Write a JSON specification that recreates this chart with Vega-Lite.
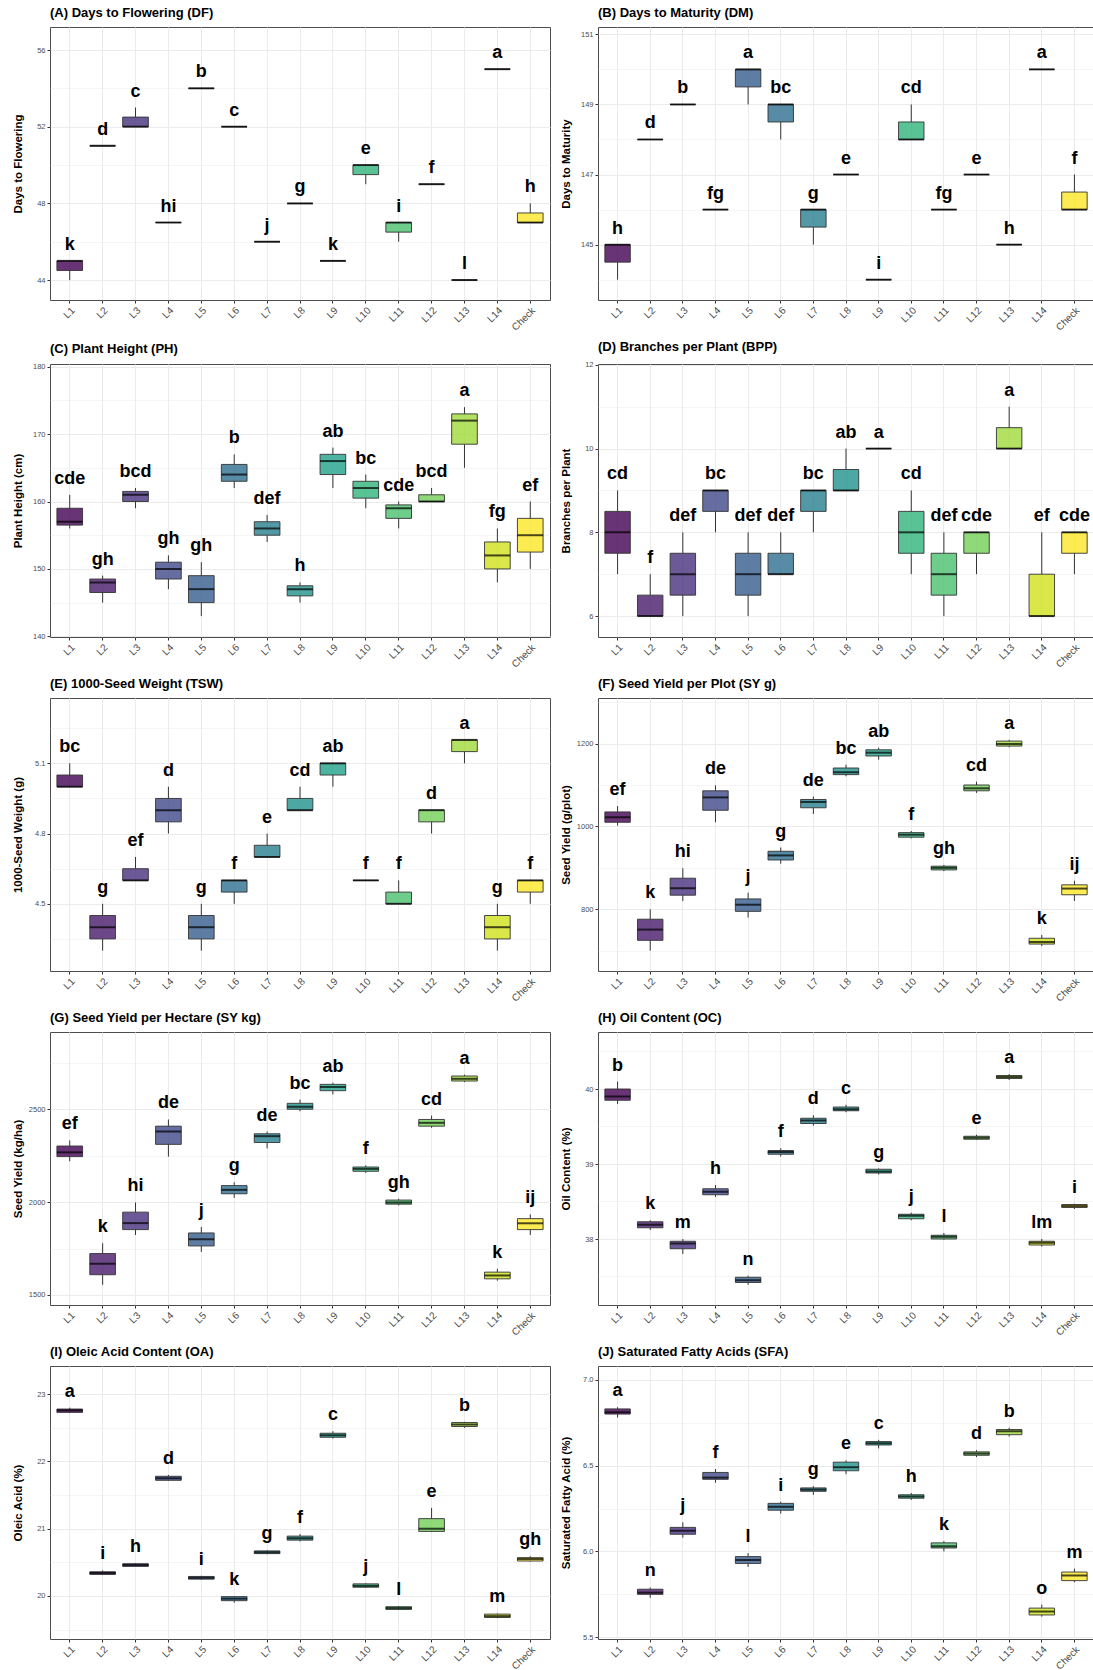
{
"$schema": "https://vega.github.io/schema/vega-lite/v6.json",
"padding": {"left": 11, "top": 6, "right": 0, "bottom": 0},
"background": "white",
"config": {
 "font": "Liberation Sans",
 "view": {"stroke": "#4d4d4d", "strokeWidth": 1},
 "range": {"category": ["#440154","#481A6C","#472F7D","#3F4889","#365C8D","#2E6E8E","#277F8E","#21918C","#1FA188","#2FB47C","#4AC16D","#73D056","#A0DA39","#D0E11C","#FDE725"]},
 "axis": {"domain": false, "grid": true, "gridColor": "#ebebeb", "tickColor": "#333333", "tickSize": 3, "labelColor": "#4d4d4d", "titleColor": "#000000", "titleFontWeight": "bold", "titleFontSize": 11.5},
 "axisX": {"labelAngle": -45, "labelAlign": "right", "labelBaseline": "top", "labelFontSize": 10, "labelPadding": 2, "minExtent": 32, "maxExtent": 32, "bandPosition": 0.5},
 "axisY": {"labelFontSize": 7.5, "labelPadding": 2, "minExtent": 24, "maxExtent": 24, "titlePadding": 3, "labelOverlap": false},
 "title": {"anchor": "start", "frame": "group", "fontSize": 13, "fontWeight": "bold", "offset": 7, "color": "#000000"},
 "bar": {"fillOpacity": 0.8, "stroke": "#333333", "strokeWidth": 0.9},
 "rule": {"color": "#333333", "strokeWidth": 1},
 "tick": {"thickness": 2, "color": "#000000"},
 "text": {"fontSize": 18, "fontWeight": "bold", "dy": -11, "baseline": "alphabetic", "align": "center", "color": "#000000"}
},
"datasets": {
 "A": [
  {"line":"L1","min":44,"q1":44.5,"med":45,"q3":45,"max":45,"grp":"k"},
  {"line":"L2","min":51,"q1":51,"med":51,"q3":51,"max":51,"grp":"d"},
  {"line":"L3","min":52,"q1":52,"med":52,"q3":52.5,"max":53,"grp":"c"},
  {"line":"L4","min":47,"q1":47,"med":47,"q3":47,"max":47,"grp":"hi"},
  {"line":"L5","min":54,"q1":54,"med":54,"q3":54,"max":54,"grp":"b"},
  {"line":"L6","min":52,"q1":52,"med":52,"q3":52,"max":52,"grp":"c"},
  {"line":"L7","min":46,"q1":46,"med":46,"q3":46,"max":46,"grp":"j"},
  {"line":"L8","min":48,"q1":48,"med":48,"q3":48,"max":48,"grp":"g"},
  {"line":"L9","min":45,"q1":45,"med":45,"q3":45,"max":45,"grp":"k"},
  {"line":"L10","min":49,"q1":49.5,"med":50,"q3":50,"max":50,"grp":"e"},
  {"line":"L11","min":46,"q1":46.5,"med":47,"q3":47,"max":47,"grp":"i"},
  {"line":"L12","min":49,"q1":49,"med":49,"q3":49,"max":49,"grp":"f"},
  {"line":"L13","min":44,"q1":44,"med":44,"q3":44,"max":44,"grp":"l"},
  {"line":"L14","min":55,"q1":55,"med":55,"q3":55,"max":55,"grp":"a"},
  {"line":"Check","min":47,"q1":47,"med":47,"q3":47.5,"max":48,"grp":"h"}
 ],
 "B": [
  {"line":"L1","min":144,"q1":144.5,"med":145,"q3":145,"max":145,"grp":"h"},
  {"line":"L2","min":148,"q1":148,"med":148,"q3":148,"max":148,"grp":"d"},
  {"line":"L3","min":149,"q1":149,"med":149,"q3":149,"max":149,"grp":"b"},
  {"line":"L4","min":146,"q1":146,"med":146,"q3":146,"max":146,"grp":"fg"},
  {"line":"L5","min":149,"q1":149.5,"med":150,"q3":150,"max":150,"grp":"a"},
  {"line":"L6","min":148,"q1":148.5,"med":149,"q3":149,"max":149,"grp":"bc"},
  {"line":"L7","min":145,"q1":145.5,"med":146,"q3":146,"max":146,"grp":"g"},
  {"line":"L8","min":147,"q1":147,"med":147,"q3":147,"max":147,"grp":"e"},
  {"line":"L9","min":144,"q1":144,"med":144,"q3":144,"max":144,"grp":"i"},
  {"line":"L10","min":148,"q1":148,"med":148,"q3":148.5,"max":149,"grp":"cd"},
  {"line":"L11","min":146,"q1":146,"med":146,"q3":146,"max":146,"grp":"fg"},
  {"line":"L12","min":147,"q1":147,"med":147,"q3":147,"max":147,"grp":"e"},
  {"line":"L13","min":145,"q1":145,"med":145,"q3":145,"max":145,"grp":"h"},
  {"line":"L14","min":150,"q1":150,"med":150,"q3":150,"max":150,"grp":"a"},
  {"line":"Check","min":146,"q1":146,"med":146,"q3":146.5,"max":147,"grp":"f"}
 ],
 "C": [
  {"line":"L1","min":156,"q1":156.5,"med":157,"q3":159,"max":161,"grp":"cde"},
  {"line":"L2","min":145,"q1":146.5,"med":148,"q3":148.5,"max":149,"grp":"gh"},
  {"line":"L3","min":159,"q1":160,"med":161,"q3":161.5,"max":162,"grp":"bcd"},
  {"line":"L4","min":147,"q1":148.5,"med":150,"q3":151,"max":152,"grp":"gh"},
  {"line":"L5","min":143,"q1":145,"med":147,"q3":149,"max":151,"grp":"gh"},
  {"line":"L6","min":162,"q1":163,"med":164,"q3":165.5,"max":167,"grp":"b"},
  {"line":"L7","min":154,"q1":155,"med":156,"q3":157,"max":158,"grp":"def"},
  {"line":"L8","min":145,"q1":146,"med":147,"q3":147.5,"max":148,"grp":"h"},
  {"line":"L9","min":162,"q1":164,"med":166,"q3":167,"max":168,"grp":"ab"},
  {"line":"L10","min":159,"q1":160.5,"med":162,"q3":163,"max":164,"grp":"bc"},
  {"line":"L11","min":156,"q1":157.5,"med":159,"q3":159.5,"max":160,"grp":"cde"},
  {"line":"L12","min":160,"q1":160,"med":160,"q3":161,"max":162,"grp":"bcd"},
  {"line":"L13","min":165,"q1":168.5,"med":172,"q3":173,"max":174,"grp":"a"},
  {"line":"L14","min":148,"q1":150,"med":152,"q3":154,"max":156,"grp":"fg"},
  {"line":"Check","min":150,"q1":152.5,"med":155,"q3":157.5,"max":160,"grp":"ef"}
 ],
 "D": [
  {"line":"L1","min":7,"q1":7.5,"med":8,"q3":8.5,"max":9,"grp":"cd"},
  {"line":"L2","min":6,"q1":6,"med":6,"q3":6.5,"max":7,"grp":"f"},
  {"line":"L3","min":6,"q1":6.5,"med":7,"q3":7.5,"max":8,"grp":"def"},
  {"line":"L4","min":8,"q1":8.5,"med":9,"q3":9,"max":9,"grp":"bc"},
  {"line":"L5","min":6,"q1":6.5,"med":7,"q3":7.5,"max":8,"grp":"def"},
  {"line":"L6","min":7,"q1":7,"med":7,"q3":7.5,"max":8,"grp":"def"},
  {"line":"L7","min":8,"q1":8.5,"med":9,"q3":9,"max":9,"grp":"bc"},
  {"line":"L8","min":9,"q1":9,"med":9,"q3":9.5,"max":10,"grp":"ab"},
  {"line":"L9","min":10,"q1":10,"med":10,"q3":10,"max":10,"grp":"a"},
  {"line":"L10","min":7,"q1":7.5,"med":8,"q3":8.5,"max":9,"grp":"cd"},
  {"line":"L11","min":6,"q1":6.5,"med":7,"q3":7.5,"max":8,"grp":"def"},
  {"line":"L12","min":7,"q1":7.5,"med":8,"q3":8,"max":8,"grp":"cde"},
  {"line":"L13","min":10,"q1":10,"med":10,"q3":10.5,"max":11,"grp":"a"},
  {"line":"L14","min":6,"q1":6,"med":6,"q3":7,"max":8,"grp":"ef"},
  {"line":"Check","min":7,"q1":7.5,"med":8,"q3":8,"max":8,"grp":"cde"}
 ],
 "E": [
  {"line":"L1","min":5.0,"q1":5.0,"med":5.0,"q3":5.05,"max":5.1,"grp":"bc"},
  {"line":"L2","min":4.3,"q1":4.35,"med":4.4,"q3":4.45,"max":4.5,"grp":"g"},
  {"line":"L3","min":4.6,"q1":4.6,"med":4.6,"q3":4.65,"max":4.7,"grp":"ef"},
  {"line":"L4","min":4.8,"q1":4.85,"med":4.9,"q3":4.95,"max":5.0,"grp":"d"},
  {"line":"L5","min":4.3,"q1":4.35,"med":4.4,"q3":4.45,"max":4.5,"grp":"g"},
  {"line":"L6","min":4.5,"q1":4.55,"med":4.6,"q3":4.6,"max":4.6,"grp":"f"},
  {"line":"L7","min":4.7,"q1":4.7,"med":4.7,"q3":4.75,"max":4.8,"grp":"e"},
  {"line":"L8","min":4.9,"q1":4.9,"med":4.9,"q3":4.95,"max":5.0,"grp":"cd"},
  {"line":"L9","min":5.0,"q1":5.05,"med":5.1,"q3":5.1,"max":5.1,"grp":"ab"},
  {"line":"L10","min":4.6,"q1":4.6,"med":4.6,"q3":4.6,"max":4.6,"grp":"f"},
  {"line":"L11","min":4.5,"q1":4.5,"med":4.5,"q3":4.55,"max":4.6,"grp":"f"},
  {"line":"L12","min":4.8,"q1":4.85,"med":4.9,"q3":4.9,"max":4.9,"grp":"d"},
  {"line":"L13","min":5.1,"q1":5.15,"med":5.2,"q3":5.2,"max":5.2,"grp":"a"},
  {"line":"L14","min":4.3,"q1":4.35,"med":4.4,"q3":4.45,"max":4.5,"grp":"g"},
  {"line":"Check","min":4.5,"q1":4.55,"med":4.6,"q3":4.6,"max":4.6,"grp":"f"}
 ],
 "F": [
  {"line":"L1","min":1002,"q1":1010,"med":1022,"q3":1035,"max":1049,"grp":"ef"},
  {"line":"L2","min":700,"q1":725,"med":751,"q3":776,"max":800,"grp":"k"},
  {"line":"L3","min":820,"q1":834,"med":851,"q3":875,"max":899,"grp":"hi"},
  {"line":"L4","min":1010,"q1":1039,"med":1070,"q3":1086,"max":1099,"grp":"de"},
  {"line":"L5","min":780,"q1":795,"med":811,"q3":825,"max":840,"grp":"j"},
  {"line":"L6","min":910,"q1":919,"med":930,"q3":940,"max":949,"grp":"g"},
  {"line":"L7","min":1030,"q1":1045,"med":1059,"q3":1065,"max":1072,"grp":"de"},
  {"line":"L8","min":1121,"q1":1125,"med":1131,"q3":1141,"max":1149,"grp":"bc"},
  {"line":"L9","min":1161,"q1":1170,"med":1178,"q3":1185,"max":1190,"grp":"ab"},
  {"line":"L10","min":971,"q1":974,"med":980,"q3":985,"max":989,"grp":"f"},
  {"line":"L11","min":892,"q1":895,"med":900,"q3":904,"max":907,"grp":"gh"},
  {"line":"L12","min":1081,"q1":1086,"med":1092,"q3":1100,"max":1108,"grp":"cd"},
  {"line":"L13","min":1191,"q1":1194,"med":1199,"q3":1206,"max":1209,"grp":"a"},
  {"line":"L14","min":711,"q1":716,"med":721,"q3":730,"max":738,"grp":"k"},
  {"line":"Check","min":820,"q1":835,"med":850,"q3":859,"max":869,"grp":"ij"}
 ],
 "G": [
  {"line":"L1","min":2220,"q1":2245,"med":2268,"q3":2302,"max":2332,"grp":"ef"},
  {"line":"L2","min":1555,"q1":1609,"med":1668,"q3":1723,"max":1779,"grp":"k"},
  {"line":"L3","min":1823,"q1":1852,"med":1887,"q3":1946,"max":1998,"grp":"hi"},
  {"line":"L4","min":2245,"q1":2311,"med":2380,"q3":2409,"max":2445,"grp":"de"},
  {"line":"L5","min":1732,"q1":1764,"med":1800,"q3":1834,"max":1866,"grp":"j"},
  {"line":"L6","min":2023,"q1":2045,"med":2066,"q3":2089,"max":2107,"grp":"g"},
  {"line":"L7","min":2289,"q1":2321,"med":2355,"q3":2368,"max":2380,"grp":"de"},
  {"line":"L8","min":2489,"q1":2500,"med":2513,"q3":2532,"max":2552,"grp":"bc"},
  {"line":"L9","min":2580,"q1":2600,"med":2620,"q3":2634,"max":2643,"grp":"ab"},
  {"line":"L10","min":2157,"q1":2166,"med":2179,"q3":2189,"max":2198,"grp":"f"},
  {"line":"L11","min":1982,"q1":1989,"med":1998,"q3":2011,"max":2018,"grp":"gh"},
  {"line":"L12","min":2400,"q1":2409,"med":2427,"q3":2445,"max":2466,"grp":"cd"},
  {"line":"L13","min":2646,"q1":2652,"med":2664,"q3":2679,"max":2686,"grp":"a"},
  {"line":"L14","min":1577,"q1":1587,"med":1605,"q3":1623,"max":1641,"grp":"k"},
  {"line":"Check","min":1823,"q1":1852,"med":1886,"q3":1911,"max":1934,"grp":"ij"}
 ],
 "H": [
  {"line":"L1","min":39.8,"q1":39.85,"med":39.9,"q3":40.0,"max":40.1,"grp":"b"},
  {"line":"L2","min":38.12,"q1":38.15,"med":38.19,"q3":38.23,"max":38.25,"grp":"k"},
  {"line":"L3","min":37.8,"q1":37.87,"med":37.94,"q3":37.97,"max":38.0,"grp":"m"},
  {"line":"L4","min":38.56,"q1":38.59,"med":38.63,"q3":38.67,"max":38.72,"grp":"h"},
  {"line":"L5","min":37.39,"q1":37.42,"med":37.45,"q3":37.49,"max":37.51,"grp":"n"},
  {"line":"L6","min":39.1,"q1":39.13,"med":39.16,"q3":39.18,"max":39.21,"grp":"f"},
  {"line":"L7","min":39.51,"q1":39.54,"med":39.58,"q3":39.61,"max":39.65,"grp":"d"},
  {"line":"L8","min":39.69,"q1":39.71,"med":39.73,"q3":39.76,"max":39.79,"grp":"c"},
  {"line":"L9","min":38.86,"q1":38.88,"med":38.9,"q3":38.93,"max":38.94,"grp":"g"},
  {"line":"L10","min":38.25,"q1":38.27,"med":38.31,"q3":38.33,"max":38.35,"grp":"j"},
  {"line":"L11","min":37.99,"q1":38.0,"med":38.03,"q3":38.05,"max":38.08,"grp":"l"},
  {"line":"L12","min":39.32,"q1":39.33,"med":39.35,"q3":39.37,"max":39.39,"grp":"e"},
  {"line":"L13","min":40.12,"q1":40.14,"med":40.16,"q3":40.18,"max":40.2,"grp":"a"},
  {"line":"L14","min":37.9,"q1":37.92,"med":37.95,"q3":37.97,"max":38.0,"grp":"lm"},
  {"line":"Check","min":38.4,"q1":38.42,"med":38.44,"q3":38.46,"max":38.47,"grp":"i"}
 ],
 "I": [
  {"line":"L1","min":22.72,"q1":22.73,"med":22.76,"q3":22.78,"max":22.8,"grp":"a"},
  {"line":"L2","min":20.31,"q1":20.32,"med":20.34,"q3":20.36,"max":20.38,"grp":"i"},
  {"line":"L3","min":20.44,"q1":20.44,"med":20.46,"q3":20.48,"max":20.49,"grp":"h"},
  {"line":"L4","min":21.71,"q1":21.72,"med":21.75,"q3":21.78,"max":21.8,"grp":"d"},
  {"line":"L5","min":20.24,"q1":20.25,"med":20.27,"q3":20.29,"max":20.3,"grp":"i"},
  {"line":"L6","min":19.9,"q1":19.93,"med":19.96,"q3":19.99,"max":20.0,"grp":"k"},
  {"line":"L7","min":20.62,"q1":20.63,"med":20.65,"q3":20.67,"max":20.68,"grp":"g"},
  {"line":"L8","min":20.81,"q1":20.83,"med":20.86,"q3":20.89,"max":20.92,"grp":"f"},
  {"line":"L9","min":22.34,"q1":22.36,"med":22.39,"q3":22.42,"max":22.45,"grp":"c"},
  {"line":"L10","min":20.12,"q1":20.13,"med":20.15,"q3":20.18,"max":20.19,"grp":"j"},
  {"line":"L11","min":19.79,"q1":19.8,"med":19.82,"q3":19.84,"max":19.85,"grp":"l"},
  {"line":"L12","min":20.95,"q1":20.96,"med":21.0,"q3":21.15,"max":21.31,"grp":"e"},
  {"line":"L13","min":22.5,"q1":22.52,"med":22.55,"q3":22.58,"max":22.59,"grp":"b"},
  {"line":"L14","min":19.67,"q1":19.68,"med":19.7,"q3":19.73,"max":19.74,"grp":"m"},
  {"line":"Check","min":20.51,"q1":20.52,"med":20.55,"q3":20.57,"max":20.59,"grp":"gh"}
 ],
 "J": [
  {"line":"L1","min":6.78,"q1":6.8,"med":6.81,"q3":6.83,"max":6.84,"grp":"a"},
  {"line":"L2","min":5.73,"q1":5.75,"med":5.76,"q3":5.78,"max":5.79,"grp":"n"},
  {"line":"L3","min":6.08,"q1":6.1,"med":6.12,"q3":6.14,"max":6.17,"grp":"j"},
  {"line":"L4","min":6.4,"q1":6.42,"med":6.43,"q3":6.46,"max":6.48,"grp":"f"},
  {"line":"L5","min":5.91,"q1":5.93,"med":5.95,"q3":5.97,"max":5.99,"grp":"l"},
  {"line":"L6","min":6.22,"q1":6.24,"med":6.26,"q3":6.28,"max":6.29,"grp":"i"},
  {"line":"L7","min":6.33,"q1":6.35,"med":6.36,"q3":6.37,"max":6.38,"grp":"g"},
  {"line":"L8","min":6.45,"q1":6.47,"med":6.49,"q3":6.52,"max":6.53,"grp":"e"},
  {"line":"L9","min":6.6,"q1":6.62,"med":6.63,"q3":6.64,"max":6.65,"grp":"c"},
  {"line":"L10","min":6.3,"q1":6.31,"med":6.32,"q3":6.33,"max":6.34,"grp":"h"},
  {"line":"L11","min":6.0,"q1":6.02,"med":6.03,"q3":6.05,"max":6.06,"grp":"k"},
  {"line":"L12","min":6.55,"q1":6.56,"med":6.57,"q3":6.58,"max":6.59,"grp":"d"},
  {"line":"L13","min":6.67,"q1":6.68,"med":6.7,"q3":6.71,"max":6.72,"grp":"b"},
  {"line":"L14","min":5.62,"q1":5.63,"med":5.65,"q3":5.67,"max":5.69,"grp":"o"},
  {"line":"Check","min":5.82,"q1":5.83,"med":5.86,"q3":5.88,"max":5.9,"grp":"m"}
 ]
},
"columns": 2,
"spacing": {"row": 7, "column": 8},
"concat": [
 {"width": 500, "height": 273, "title": "(A) Days to Flowering (DF)", "data": {"name": "A"},
  "encoding": {"x": {"field": "line", "type": "nominal", "title": null, "scale": {"domain": ["L1","L2","L3","L4","L5","L6","L7","L8","L9","L10","L11","L12","L13","L14","Check"], "paddingInner": 0, "paddingOuter": 0.1}}},
  "layer": [
   {"mark": "rule", "encoding": {"y": {"field": "q3", "type": "quantitative", "title": "Days to Flowering", "scale": {"domain": [42.96, 57.2], "zero": false, "nice": false}, "axis": {"title": "Days to Flowering", "format": ".0f", "tickCount": 30, "values": [44,46,48,50,52,54,56], "labelExpr": "indexof([44,48,52,56], datum.value) >= 0 ? datum.label : ''", "tickOpacity": {"condition": {"test": "indexof([44,48,52,56], datum.value) < 0", "value": 0}, "value": 1}, "gridWidth": {"condition": {"test": "indexof([44,48,52,56], datum.value) < 0", "value": 0.5}, "value": 1}}}, "y2": {"field": "max"}}},
   {"mark": "rule", "encoding": {"y": {"field": "min", "type": "quantitative", "title": "Days to Flowering", "scale": {"domain": [42.96, 57.2], "zero": false, "nice": false}}, "y2": {"field": "q1"}}},
   {"mark": {"type": "bar", "width": {"band": 0.78}}, "encoding": {"y": {"field": "q1", "type": "quantitative", "title": "Days to Flowering", "scale": {"domain": [42.96, 57.2], "zero": false, "nice": false}}, "y2": {"field": "q3"}, "color": {"field": "line", "type": "nominal", "scale": {"domain": ["L1","L2","L3","L4","L5","L6","L7","L8","L9","L10","L11","L12","L13","L14","Check"]}, "legend": null}}},
   {"mark": {"type": "tick", "size": 25.7}, "encoding": {"y": {"field": "med", "type": "quantitative", "title": "Days to Flowering", "scale": {"domain": [42.96, 57.2], "zero": false, "nice": false}}}},
   {"mark": "text", "encoding": {"y": {"field": "max", "type": "quantitative", "title": "Days to Flowering", "scale": {"domain": [42.96, 57.2], "zero": false, "nice": false}}, "text": {"field": "grp"}}}
  ]},
 {"width": 496, "height": 273, "title": "(B) Days to Maturity (DM)", "data": {"name": "B"},
  "encoding": {"x": {"field": "line", "type": "nominal", "title": null, "scale": {"domain": ["L1","L2","L3","L4","L5","L6","L7","L8","L9","L10","L11","L12","L13","L14","Check"], "paddingInner": 0, "paddingOuter": 0.1}}},
  "layer": [
   {"mark": "rule", "encoding": {"y": {"field": "q3", "type": "quantitative", "title": "Days to Maturity", "scale": {"domain": [143.42, 151.21], "zero": false, "nice": false}, "axis": {"title": "Days to Maturity", "format": ".0f", "tickCount": 30, "values": [144,145,146,147,148,149,150,151], "labelExpr": "indexof([145,147,149,151], datum.value) >= 0 ? datum.label : ''", "tickOpacity": {"condition": {"test": "indexof([145,147,149,151], datum.value) < 0", "value": 0}, "value": 1}, "gridWidth": {"condition": {"test": "indexof([145,147,149,151], datum.value) < 0", "value": 0.5}, "value": 1}}}, "y2": {"field": "max"}}},
   {"mark": "rule", "encoding": {"y": {"field": "min", "type": "quantitative", "title": "Days to Maturity", "scale": {"domain": [143.42, 151.21], "zero": false, "nice": false}}, "y2": {"field": "q1"}}},
   {"mark": {"type": "bar", "width": {"band": 0.78}}, "encoding": {"y": {"field": "q1", "type": "quantitative", "title": "Days to Maturity", "scale": {"domain": [143.42, 151.21], "zero": false, "nice": false}}, "y2": {"field": "q3"}, "color": {"field": "line", "type": "nominal", "scale": {"domain": ["L1","L2","L3","L4","L5","L6","L7","L8","L9","L10","L11","L12","L13","L14","Check"]}, "legend": null}}},
   {"mark": {"type": "tick", "size": 25.45}, "encoding": {"y": {"field": "med", "type": "quantitative", "title": "Days to Maturity", "scale": {"domain": [143.42, 151.21], "zero": false, "nice": false}}}},
   {"mark": "text", "encoding": {"y": {"field": "max", "type": "quantitative", "title": "Days to Maturity", "scale": {"domain": [143.42, 151.21], "zero": false, "nice": false}}, "text": {"field": "grp"}}}
  ]},
 {"width": 500, "height": 273, "title": "(C) Plant Height (PH)", "data": {"name": "C"},
  "encoding": {"x": {"field": "line", "type": "nominal", "title": null, "scale": {"domain": ["L1","L2","L3","L4","L5","L6","L7","L8","L9","L10","L11","L12","L13","L14","Check"], "paddingInner": 0, "paddingOuter": 0.1}}},
  "layer": [
   {"mark": "rule", "encoding": {"y": {"field": "q3", "type": "quantitative", "title": "Plant Height (cm)", "scale": {"domain": [139.9, 180.4], "zero": false, "nice": false}, "axis": {"title": "Plant Height (cm)", "format": ".0f", "tickCount": 30, "values": [140,145,150,155,160,165,170,175,180], "labelExpr": "indexof([140,150,160,170,180], datum.value) >= 0 ? datum.label : ''", "tickOpacity": {"condition": {"test": "indexof([140,150,160,170,180], datum.value) < 0", "value": 0}, "value": 1}, "gridWidth": {"condition": {"test": "indexof([140,150,160,170,180], datum.value) < 0", "value": 0.5}, "value": 1}}}, "y2": {"field": "max"}}},
   {"mark": "rule", "encoding": {"y": {"field": "min", "type": "quantitative", "title": "Plant Height (cm)", "scale": {"domain": [139.9, 180.4], "zero": false, "nice": false}}, "y2": {"field": "q1"}}},
   {"mark": {"type": "bar", "width": {"band": 0.78}}, "encoding": {"y": {"field": "q1", "type": "quantitative", "title": "Plant Height (cm)", "scale": {"domain": [139.9, 180.4], "zero": false, "nice": false}}, "y2": {"field": "q3"}, "color": {"field": "line", "type": "nominal", "scale": {"domain": ["L1","L2","L3","L4","L5","L6","L7","L8","L9","L10","L11","L12","L13","L14","Check"]}, "legend": null}}},
   {"mark": {"type": "tick", "size": 25.7}, "encoding": {"y": {"field": "med", "type": "quantitative", "title": "Plant Height (cm)", "scale": {"domain": [139.9, 180.4], "zero": false, "nice": false}}}},
   {"mark": "text", "encoding": {"y": {"field": "max", "type": "quantitative", "title": "Plant Height (cm)", "scale": {"domain": [139.9, 180.4], "zero": false, "nice": false}}, "text": {"field": "grp"}}}
  ]},
 {"width": 496, "height": 273, "title": "(D) Branches per Plant (BPP)", "data": {"name": "D"},
  "encoding": {"x": {"field": "line", "type": "nominal", "title": null, "scale": {"domain": ["L1","L2","L3","L4","L5","L6","L7","L8","L9","L10","L11","L12","L13","L14","Check"], "paddingInner": 0, "paddingOuter": 0.1}}},
  "layer": [
   {"mark": "rule", "encoding": {"y": {"field": "q3", "type": "quantitative", "title": "Branches per Plant", "scale": {"domain": [5.5, 12.02], "zero": false, "nice": false}, "axis": {"title": "Branches per Plant", "format": ".0f", "tickCount": 30, "values": [6,7,8,9,10,11,12], "labelExpr": "indexof([6,8,10,12], datum.value) >= 0 ? datum.label : ''", "tickOpacity": {"condition": {"test": "indexof([6,8,10,12], datum.value) < 0", "value": 0}, "value": 1}, "gridWidth": {"condition": {"test": "indexof([6,8,10,12], datum.value) < 0", "value": 0.5}, "value": 1}}}, "y2": {"field": "max"}}},
   {"mark": "rule", "encoding": {"y": {"field": "min", "type": "quantitative", "title": "Branches per Plant", "scale": {"domain": [5.5, 12.02], "zero": false, "nice": false}}, "y2": {"field": "q1"}}},
   {"mark": {"type": "bar", "width": {"band": 0.78}}, "encoding": {"y": {"field": "q1", "type": "quantitative", "title": "Branches per Plant", "scale": {"domain": [5.5, 12.02], "zero": false, "nice": false}}, "y2": {"field": "q3"}, "color": {"field": "line", "type": "nominal", "scale": {"domain": ["L1","L2","L3","L4","L5","L6","L7","L8","L9","L10","L11","L12","L13","L14","Check"]}, "legend": null}}},
   {"mark": {"type": "tick", "size": 25.45}, "encoding": {"y": {"field": "med", "type": "quantitative", "title": "Branches per Plant", "scale": {"domain": [5.5, 12.02], "zero": false, "nice": false}}}},
   {"mark": "text", "encoding": {"y": {"field": "max", "type": "quantitative", "title": "Branches per Plant", "scale": {"domain": [5.5, 12.02], "zero": false, "nice": false}}, "text": {"field": "grp"}}}
  ]},
 {"width": 500, "height": 273, "title": "(E) 1000-Seed Weight (TSW)", "data": {"name": "E"},
  "encoding": {"x": {"field": "line", "type": "nominal", "title": null, "scale": {"domain": ["L1","L2","L3","L4","L5","L6","L7","L8","L9","L10","L11","L12","L13","L14","Check"], "paddingInner": 0, "paddingOuter": 0.1}}},
  "layer": [
   {"mark": "rule", "encoding": {"y": {"field": "q3", "type": "quantitative", "title": "1000-Seed Weight (g)", "scale": {"domain": [4.213, 5.379], "zero": false, "nice": false}, "axis": {"title": "1000-Seed Weight (g)", "format": ".1f", "tickCount": 30, "values": [4.35,4.5,4.65,4.8,4.95,5.1,5.25], "labelExpr": "indexof([4.5,4.8,5.1], datum.value) >= 0 ? datum.label : ''", "tickOpacity": {"condition": {"test": "indexof([4.5,4.8,5.1], datum.value) < 0", "value": 0}, "value": 1}, "gridWidth": {"condition": {"test": "indexof([4.5,4.8,5.1], datum.value) < 0", "value": 0.5}, "value": 1}}}, "y2": {"field": "max"}}},
   {"mark": "rule", "encoding": {"y": {"field": "min", "type": "quantitative", "title": "1000-Seed Weight (g)", "scale": {"domain": [4.213, 5.379], "zero": false, "nice": false}}, "y2": {"field": "q1"}}},
   {"mark": {"type": "bar", "width": {"band": 0.78}}, "encoding": {"y": {"field": "q1", "type": "quantitative", "title": "1000-Seed Weight (g)", "scale": {"domain": [4.213, 5.379], "zero": false, "nice": false}}, "y2": {"field": "q3"}, "color": {"field": "line", "type": "nominal", "scale": {"domain": ["L1","L2","L3","L4","L5","L6","L7","L8","L9","L10","L11","L12","L13","L14","Check"]}, "legend": null}}},
   {"mark": {"type": "tick", "size": 25.7}, "encoding": {"y": {"field": "med", "type": "quantitative", "title": "1000-Seed Weight (g)", "scale": {"domain": [4.213, 5.379], "zero": false, "nice": false}}}},
   {"mark": "text", "encoding": {"y": {"field": "max", "type": "quantitative", "title": "1000-Seed Weight (g)", "scale": {"domain": [4.213, 5.379], "zero": false, "nice": false}}, "text": {"field": "grp"}}}
  ]},
 {"width": 496, "height": 273, "title": "(F) Seed Yield per Plot (SY g)", "data": {"name": "F"},
  "encoding": {"x": {"field": "line", "type": "nominal", "title": null, "scale": {"domain": ["L1","L2","L3","L4","L5","L6","L7","L8","L9","L10","L11","L12","L13","L14","Check"], "paddingInner": 0, "paddingOuter": 0.1}}},
  "layer": [
   {"mark": "rule", "encoding": {"y": {"field": "q3", "type": "quantitative", "title": "Seed Yield (g/plot)", "scale": {"domain": [651, 1310], "zero": false, "nice": false}, "axis": {"title": "Seed Yield (g/plot)", "format": ".0f", "tickCount": 30, "values": [700,800,900,1000,1100,1200,1300], "labelExpr": "indexof([800,1000,1200], datum.value) >= 0 ? datum.label : ''", "tickOpacity": {"condition": {"test": "indexof([800,1000,1200], datum.value) < 0", "value": 0}, "value": 1}, "gridWidth": {"condition": {"test": "indexof([800,1000,1200], datum.value) < 0", "value": 0.5}, "value": 1}}}, "y2": {"field": "max"}}},
   {"mark": "rule", "encoding": {"y": {"field": "min", "type": "quantitative", "title": "Seed Yield (g/plot)", "scale": {"domain": [651, 1310], "zero": false, "nice": false}}, "y2": {"field": "q1"}}},
   {"mark": {"type": "bar", "width": {"band": 0.78}}, "encoding": {"y": {"field": "q1", "type": "quantitative", "title": "Seed Yield (g/plot)", "scale": {"domain": [651, 1310], "zero": false, "nice": false}}, "y2": {"field": "q3"}, "color": {"field": "line", "type": "nominal", "scale": {"domain": ["L1","L2","L3","L4","L5","L6","L7","L8","L9","L10","L11","L12","L13","L14","Check"]}, "legend": null}}},
   {"mark": {"type": "tick", "size": 25.45}, "encoding": {"y": {"field": "med", "type": "quantitative", "title": "Seed Yield (g/plot)", "scale": {"domain": [651, 1310], "zero": false, "nice": false}}}},
   {"mark": "text", "encoding": {"y": {"field": "max", "type": "quantitative", "title": "Seed Yield (g/plot)", "scale": {"domain": [651, 1310], "zero": false, "nice": false}}, "text": {"field": "grp"}}}
  ]},
 {"width": 500, "height": 273, "title": "(G) Seed Yield per Hectare (SY kg)", "data": {"name": "G"},
  "encoding": {"x": {"field": "line", "type": "nominal", "title": null, "scale": {"domain": ["L1","L2","L3","L4","L5","L6","L7","L8","L9","L10","L11","L12","L13","L14","Check"], "paddingInner": 0, "paddingOuter": 0.1}}},
  "layer": [
   {"mark": "rule", "encoding": {"y": {"field": "q3", "type": "quantitative", "title": "Seed Yield (kg/ha)", "scale": {"domain": [1446, 2916], "zero": false, "nice": false}, "axis": {"title": "Seed Yield (kg/ha)", "format": ".0f", "tickCount": 30, "values": [1500,1750,2000,2250,2500,2750], "labelExpr": "indexof([1500,2000,2500], datum.value) >= 0 ? datum.label : ''", "tickOpacity": {"condition": {"test": "indexof([1500,2000,2500], datum.value) < 0", "value": 0}, "value": 1}, "gridWidth": {"condition": {"test": "indexof([1500,2000,2500], datum.value) < 0", "value": 0.5}, "value": 1}}}, "y2": {"field": "max"}}},
   {"mark": "rule", "encoding": {"y": {"field": "min", "type": "quantitative", "title": "Seed Yield (kg/ha)", "scale": {"domain": [1446, 2916], "zero": false, "nice": false}}, "y2": {"field": "q1"}}},
   {"mark": {"type": "bar", "width": {"band": 0.78}}, "encoding": {"y": {"field": "q1", "type": "quantitative", "title": "Seed Yield (kg/ha)", "scale": {"domain": [1446, 2916], "zero": false, "nice": false}}, "y2": {"field": "q3"}, "color": {"field": "line", "type": "nominal", "scale": {"domain": ["L1","L2","L3","L4","L5","L6","L7","L8","L9","L10","L11","L12","L13","L14","Check"]}, "legend": null}}},
   {"mark": {"type": "tick", "size": 25.7}, "encoding": {"y": {"field": "med", "type": "quantitative", "title": "Seed Yield (kg/ha)", "scale": {"domain": [1446, 2916], "zero": false, "nice": false}}}},
   {"mark": "text", "encoding": {"y": {"field": "max", "type": "quantitative", "title": "Seed Yield (kg/ha)", "scale": {"domain": [1446, 2916], "zero": false, "nice": false}}, "text": {"field": "grp"}}}
  ]},
 {"width": 496, "height": 273, "title": "(H) Oil Content (OC)", "data": {"name": "H"},
  "encoding": {"x": {"field": "line", "type": "nominal", "title": null, "scale": {"domain": ["L1","L2","L3","L4","L5","L6","L7","L8","L9","L10","L11","L12","L13","L14","Check"], "paddingInner": 0, "paddingOuter": 0.1}}},
  "layer": [
   {"mark": "rule", "encoding": {"y": {"field": "q3", "type": "quantitative", "title": "Oil Content (%)", "scale": {"domain": [37.12, 40.76], "zero": false, "nice": false}, "axis": {"title": "Oil Content (%)", "format": ".0f", "tickCount": 30, "values": [37.5,38,38.5,39,39.5,40,40.5], "labelExpr": "indexof([38,39,40], datum.value) >= 0 ? datum.label : ''", "tickOpacity": {"condition": {"test": "indexof([38,39,40], datum.value) < 0", "value": 0}, "value": 1}, "gridWidth": {"condition": {"test": "indexof([38,39,40], datum.value) < 0", "value": 0.5}, "value": 1}}}, "y2": {"field": "max"}}},
   {"mark": "rule", "encoding": {"y": {"field": "min", "type": "quantitative", "title": "Oil Content (%)", "scale": {"domain": [37.12, 40.76], "zero": false, "nice": false}}, "y2": {"field": "q1"}}},
   {"mark": {"type": "bar", "width": {"band": 0.78}}, "encoding": {"y": {"field": "q1", "type": "quantitative", "title": "Oil Content (%)", "scale": {"domain": [37.12, 40.76], "zero": false, "nice": false}}, "y2": {"field": "q3"}, "color": {"field": "line", "type": "nominal", "scale": {"domain": ["L1","L2","L3","L4","L5","L6","L7","L8","L9","L10","L11","L12","L13","L14","Check"]}, "legend": null}}},
   {"mark": {"type": "tick", "size": 25.45}, "encoding": {"y": {"field": "med", "type": "quantitative", "title": "Oil Content (%)", "scale": {"domain": [37.12, 40.76], "zero": false, "nice": false}}}},
   {"mark": "text", "encoding": {"y": {"field": "max", "type": "quantitative", "title": "Oil Content (%)", "scale": {"domain": [37.12, 40.76], "zero": false, "nice": false}}, "text": {"field": "grp"}}}
  ]},
 {"width": 500, "height": 273, "title": "(I) Oleic Acid Content (OA)", "data": {"name": "I"},
  "encoding": {"x": {"field": "line", "type": "nominal", "title": null, "scale": {"domain": ["L1","L2","L3","L4","L5","L6","L7","L8","L9","L10","L11","L12","L13","L14","Check"], "paddingInner": 0, "paddingOuter": 0.1}}},
  "layer": [
   {"mark": "rule", "encoding": {"y": {"field": "q3", "type": "quantitative", "title": "Oleic Acid (%)", "scale": {"domain": [19.36, 23.42], "zero": false, "nice": false}, "axis": {"title": "Oleic Acid (%)", "format": ".0f", "tickCount": 30, "values": [19.5,20,20.5,21,21.5,22,22.5,23], "labelExpr": "indexof([20,21,22,23], datum.value) >= 0 ? datum.label : ''", "tickOpacity": {"condition": {"test": "indexof([20,21,22,23], datum.value) < 0", "value": 0}, "value": 1}, "gridWidth": {"condition": {"test": "indexof([20,21,22,23], datum.value) < 0", "value": 0.5}, "value": 1}}}, "y2": {"field": "max"}}},
   {"mark": "rule", "encoding": {"y": {"field": "min", "type": "quantitative", "title": "Oleic Acid (%)", "scale": {"domain": [19.36, 23.42], "zero": false, "nice": false}}, "y2": {"field": "q1"}}},
   {"mark": {"type": "bar", "width": {"band": 0.78}}, "encoding": {"y": {"field": "q1", "type": "quantitative", "title": "Oleic Acid (%)", "scale": {"domain": [19.36, 23.42], "zero": false, "nice": false}}, "y2": {"field": "q3"}, "color": {"field": "line", "type": "nominal", "scale": {"domain": ["L1","L2","L3","L4","L5","L6","L7","L8","L9","L10","L11","L12","L13","L14","Check"]}, "legend": null}}},
   {"mark": {"type": "tick", "size": 25.7}, "encoding": {"y": {"field": "med", "type": "quantitative", "title": "Oleic Acid (%)", "scale": {"domain": [19.36, 23.42], "zero": false, "nice": false}}}},
   {"mark": "text", "encoding": {"y": {"field": "max", "type": "quantitative", "title": "Oleic Acid (%)", "scale": {"domain": [19.36, 23.42], "zero": false, "nice": false}}, "text": {"field": "grp"}}}
  ]},
 {"width": 496, "height": 273, "title": "(J) Saturated Fatty Acids (SFA)", "data": {"name": "J"},
  "encoding": {"x": {"field": "line", "type": "nominal", "title": null, "scale": {"domain": ["L1","L2","L3","L4","L5","L6","L7","L8","L9","L10","L11","L12","L13","L14","Check"], "paddingInner": 0, "paddingOuter": 0.1}}},
  "layer": [
   {"mark": "rule", "encoding": {"y": {"field": "q3", "type": "quantitative", "title": "Saturated Fatty Acid (%)", "scale": {"domain": [5.49, 7.08], "zero": false, "nice": false}, "axis": {"title": "Saturated Fatty Acid (%)", "format": ".1f", "tickCount": 30, "values": [5.5,5.75,6,6.25,6.5,6.75,7], "labelExpr": "indexof([5.5,6,6.5,7], datum.value) >= 0 ? datum.label : ''", "tickOpacity": {"condition": {"test": "indexof([5.5,6,6.5,7], datum.value) < 0", "value": 0}, "value": 1}, "gridWidth": {"condition": {"test": "indexof([5.5,6,6.5,7], datum.value) < 0", "value": 0.5}, "value": 1}}}, "y2": {"field": "max"}}},
   {"mark": "rule", "encoding": {"y": {"field": "min", "type": "quantitative", "title": "Saturated Fatty Acid (%)", "scale": {"domain": [5.49, 7.08], "zero": false, "nice": false}}, "y2": {"field": "q1"}}},
   {"mark": {"type": "bar", "width": {"band": 0.78}}, "encoding": {"y": {"field": "q1", "type": "quantitative", "title": "Saturated Fatty Acid (%)", "scale": {"domain": [5.49, 7.08], "zero": false, "nice": false}}, "y2": {"field": "q3"}, "color": {"field": "line", "type": "nominal", "scale": {"domain": ["L1","L2","L3","L4","L5","L6","L7","L8","L9","L10","L11","L12","L13","L14","Check"]}, "legend": null}}},
   {"mark": {"type": "tick", "size": 25.45}, "encoding": {"y": {"field": "med", "type": "quantitative", "title": "Saturated Fatty Acid (%)", "scale": {"domain": [5.49, 7.08], "zero": false, "nice": false}}}},
   {"mark": "text", "encoding": {"y": {"field": "max", "type": "quantitative", "title": "Saturated Fatty Acid (%)", "scale": {"domain": [5.49, 7.08], "zero": false, "nice": false}}, "text": {"field": "grp"}}}
  ]}
]
}
